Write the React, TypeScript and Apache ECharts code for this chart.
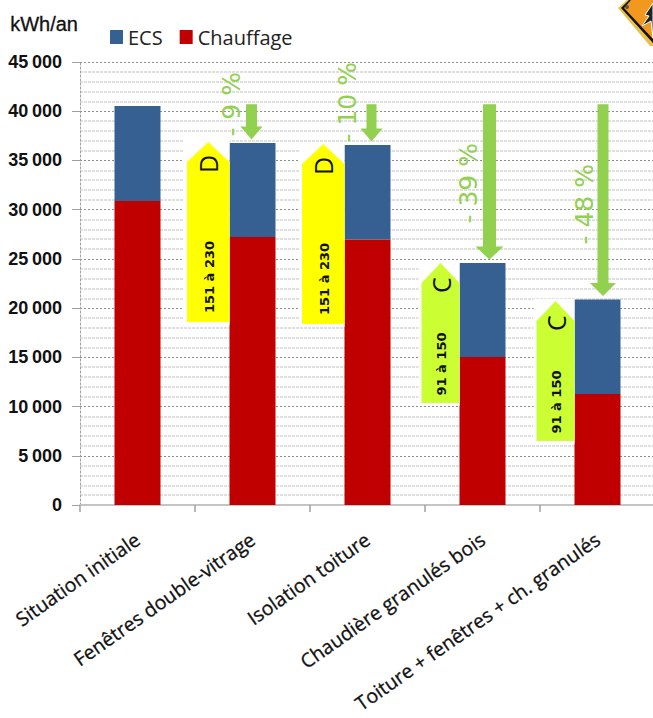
import React, { useEffect, useRef } from "react";
import * as echarts from "echarts";

const categories = [
  "Situation initiale",
  "Fenêtres double-vitrage",
  "Isolation toiture",
  "Chaudière granulés bois",
  "Toiture + fenêtres + ch. granulés",
];
const chauffage = [30880, 27220, 26970, 15030, 11280];
const ecs = [9650, 9550, 9600, 9550, 9590];

// Reduction arrows: category, percentage label
const arrowTail = 40700;
const reductions = [
  { cat: 1, label: "- 9 %" },
  { cat: 2, label: "- 10 %" },
  { cat: 3, label: "- 39 %" },
  { cat: 4, label: "- 48 %" },
];
// Energy class tags: category, top value, bottom value, letter, range
const classTags = [
  { cat: 1, top: 36870, bottom: 18590, letter: "D", range: "151 à 230" },
  { cat: 2, top: 36670, bottom: 18390, letter: "D", range: "151 à 230" },
  { cat: 3, top: 24580, bottom: 10360, letter: "C", range: "91 à 150" },
  { cat: 4, top: 20720, bottom: 6500, letter: "C", range: "91 à 150" },
];

const BAR_BLUE = "#376092";
const BAR_RED = "#c00000";
const ARROW_GREEN = "#92d050";
const TAG_COLORS: Record<string, string> = { D: "#ffff00", C: "#ccff33" };

// Per-arrow placement relative to the bar centre and the tail of the arrow
const arrowLayout: Record<number, { dx: number; half: number; headHalf: number; labelDx: number; labelDy: number }> = {
  1: { dx: -1, half: 5.5, headHalf: 11, labelDx: -20, labelDy: 0 },
  2: { dx: 4, half: 5, headHalf: 11, labelDx: -24, labelDy: -2 },
  3: { dx: 7, half: 6.5, headHalf: 14, labelDx: -21, labelDy: 79 },
  4: { dx: 5.5, half: 5.5, headHalf: 13, labelDx: -19, labelDy: 100 },
};

function renderArrow(_: any, api: any) {
  const cat = api.value(0);
  const layout = arrowLayout[cat];
  const label = reductions[api.value(3)].label;
  const [x, yBar] = api.coord([cat, api.value(1)]);
  const [, yTail] = api.coord([cat, api.value(2)]);
  const cx = x + layout.dx;
  const yTip = yBar - 3.5;
  const headH = 13;
  return {
    type: "group",
    children: [
      {
        type: "polygon",
        shape: {
          points: [
            [cx - layout.half, yTail],
            [cx + layout.half, yTail],
            [cx + layout.half, yTip - headH],
            [cx + layout.headHalf, yTip - headH],
            [cx, yTip],
            [cx - layout.headHalf, yTip - headH],
            [cx - layout.half, yTip - headH],
          ],
        },
        style: { fill: ARROW_GREEN },
      },
      {
        type: "text",
        x: cx + layout.labelDx,
        y: yTail + layout.labelDy,
        rotation: Math.PI / 2,
        style: {
          text: label,
          fill: ARROW_GREEN,
          font: '25px "DejaVu Sans"',
          align: "center",
          verticalAlign: "middle",
        },
      },
    ],
  };
}

function renderTag(_: any, api: any) {
  const tag = classTags[api.value(3)];
  const [cx] = api.coord([api.value(0), 0]);
  const [, yTop] = api.coord([0, api.value(1)]);
  const [, yBottom] = api.coord([0, api.value(2)]);
  const isD = tag.letter === "D";
  const left = cx - (isD ? 65.5 : 61);
  const right = cx - 23;
  const mid = (left + right) / 2;
  const shoulder = yTop + 20;
  return {
    type: "group",
    children: [
      {
        type: "rect",
        shape: { x: left - 3, y: yTop - 2, width: right - left + 3, height: yBottom - yTop + 5 },
        style: { fill: "#ffffff" },
      },
      {
        type: "polygon",
        shape: {
          points: [
            [mid, yTop],
            [right, shoulder],
            [right, yBottom],
            [left, yBottom],
            [left, shoulder],
          ],
        },
        style: { fill: TAG_COLORS[tag.letter] },
      },
      {
        type: "text",
        x: mid,
        y: yTop + 22,
        rotation: Math.PI / 2,
        style: {
          text: tag.letter,
          fill: "#111",
          font: '25px "Open Sans"',
          align: "center",
          verticalAlign: "middle",
        },
      },
      {
        type: "text",
        x: mid + 1,
        y: yBottom - (isD ? 45 : 39),
        rotation: Math.PI / 2,
        style: {
          text: tag.range,
          fill: "#111",
          font: 'bold 13px "DejaVu Sans"',
          align: "center",
          verticalAlign: "middle",
        },
      },
    ],
  };
}

export default function App() {
  const ref = useRef<HTMLDivElement>(null);

  useEffect(() => {
    const chart = echarts.init(ref.current!, undefined, { renderer: "svg" });
    chart.setOption({
      animation: false,
      backgroundColor: "#ffffff",
      grid: { left: 80, width: 575, top: 62, height: 443, containLabel: false, outerBoundsMode: "none" },
      legend: {
        data: ["ECS", "Chauffage"],
        left: 105,
        top: 22,
        itemWidth: 13,
        itemHeight: 14,
        itemGap: 17,
        textStyle: { fontFamily: "Open Sans", fontSize: 20, color: "#222", padding: [0, 0, 0, 0] },
        icon: "rect",
      },
      xAxis: {
        type: "category",
        data: categories,
        axisLine: { lineStyle: { color: "#c4c4c4", width: 2 } },
        axisTick: { show: true, length: 7, lineStyle: { color: "#a0a0a0", width: 1.5 } },
        axisLabel: {
          rotate: 35,
          interval: 0,
          margin: 32,
          fontFamily: "Open Sans",
          fontSize: 19.5,
          color: "#111",
          textBorderColor: "#111",
          textBorderWidth: 0.3,
        },
      },
      yAxis: {
        type: "value",
        min: 0,
        max: 45000,
        interval: 5000,
        axisLine: { show: true, lineStyle: { color: "#a0a0a0", type: [2, 2], width: 1 } },
        axisTick: { show: true, length: 8, lineStyle: { color: "#a0a0a0" } },
        minorTick: { show: false, splitNumber: 5 },
        axisLabel: {
          margin: 18,
          fontFamily: "Liberation Sans",
          fontWeight: "bold",
          fontSize: 18,
          color: "#111",
          formatter: (v: number) =>
            v >= 1000 ? `${Math.floor(v / 1000)}\u2009${String(v % 1000).padStart(3, "0")}` : String(v),
        },
        splitLine: { show: true, lineStyle: { color: "#8c8c8c", type: [2, 2], width: 1 } },
        minorSplitLine: { show: true, lineStyle: { color: "#e0e0e0", type: [3, 1], width: 2 } },
      },
      series: [
        {
          name: "Chauffage",
          type: "bar",
          stack: "total",
          data: chauffage,
          barWidth: 46,
          itemStyle: { color: BAR_RED },
        },
        {
          name: "ECS",
          type: "bar",
          stack: "total",
          data: ecs,
          barWidth: 46,
          itemStyle: { color: BAR_BLUE },
        },
        {
          type: "custom",
          silent: true,
          coordinateSystem: "cartesian2d",
          renderItem: renderTag,
          encode: { x: 0, y: 1 },
          data: classTags.map((t, i) => [t.cat, t.top, t.bottom, i]),
          z: 5,
        },
        {
          type: "custom",
          silent: true,
          coordinateSystem: "cartesian2d",
          renderItem: renderArrow,
          encode: { x: 0, y: 1 },
          data: reductions.map((r, i) => [r.cat, chauffage[r.cat] + ecs[r.cat], arrowTail, i]),
          z: 6,
        },
      ],
      graphic: [
        {
          type: "text",
          left: 10,
          top: 14,
          style: { text: "kWh/an", font: '20px "Liberation Sans"', fill: "#111", stroke: "#111", lineWidth: 0.3 },
        },
        // Warning sign cut off by the top right corner
        {
          type: "polygon",
          shape: { points: [[618, 8], [627, 0], [653, 0], [653, 46], [650, 46]] },
          style: { fill: "#e9c04a" },
        },
        {
          type: "polygon",
          shape: { points: [[621, 8], [629, 0], [653, 0], [653, 43]] },
          style: { fill: "#111" },
        },
        {
          type: "polygon",
          shape: { points: [[624, 8], [631, 0], [653, 0], [653, 39]] },
          style: { fill: "#f2981f" },
        },
        {
          type: "circle",
          shape: { cx: 627, cy: 7, r: 2 },
          style: { fill: "#555" },
        },
        {
          type: "polygon",
          shape: { points: [[653, 3], [645, 15], [649, 16], [642, 26], [651, 21], [653, 38]] },
          style: { fill: "#222", stroke: "#fff", lineWidth: 1 },
        },
      ],
    });
    return () => chart.dispose();
  }, []);

  return <div ref={ref} style={{ position: "fixed", left: 0, top: 0, width: 653, height: 718 }} />;
}
